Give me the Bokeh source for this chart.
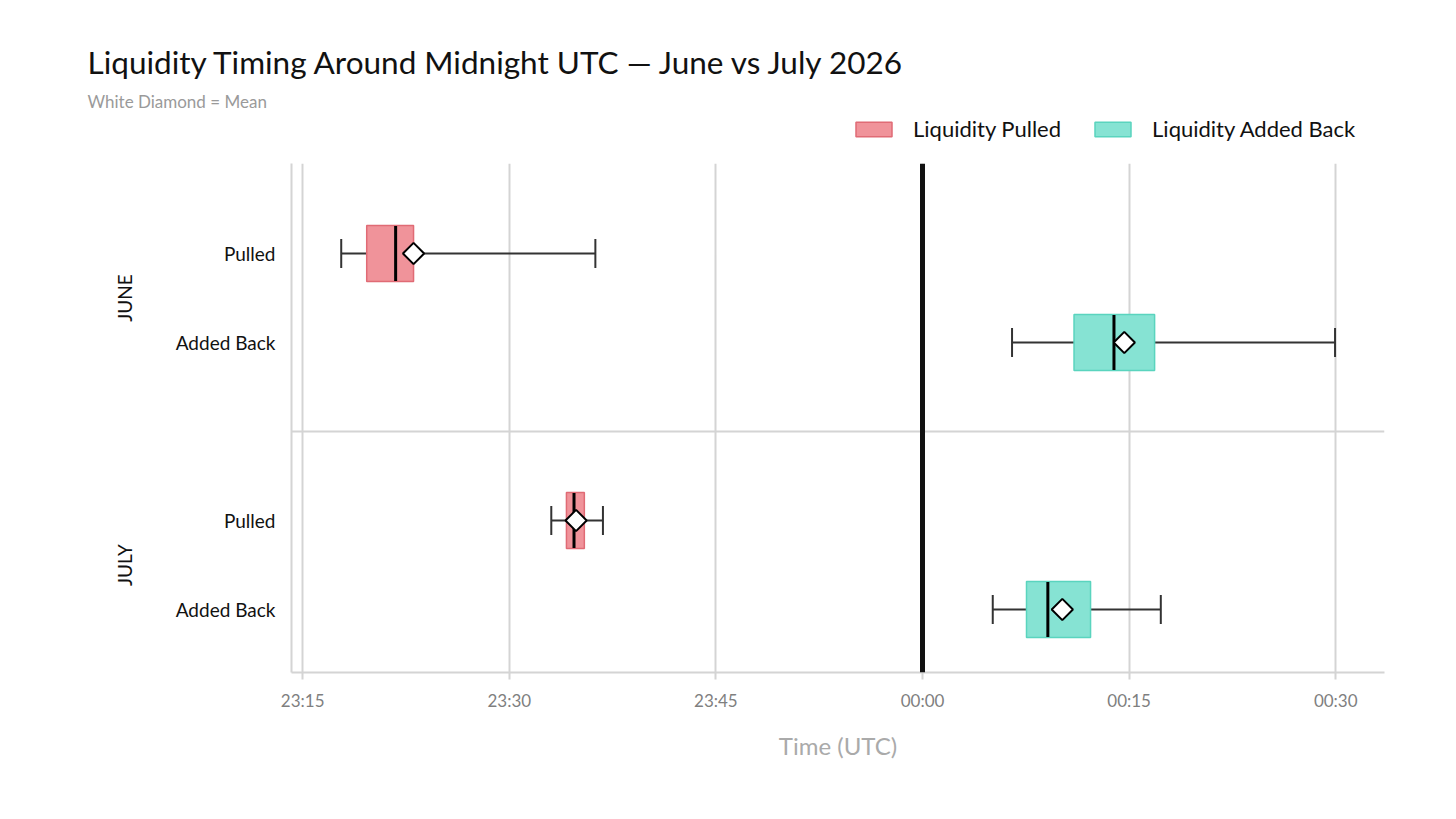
import numpy as np
from bokeh.plotting import figure
from bokeh.layouts import column
from bokeh.models import (ColumnDataSource, Range1d, FixedTicker, Span, Label,
                          Legend, LegendItem, LinearAxis)
from bokeh.embed import file_html
from bokeh.resources import INLINE

# ---------------- data (minutes relative to 00:00 UTC) ----------------
month_order = ["JUNE", "JULY"]
kind_order = ["Pulled", "Added Back"]
months = ["JUNE", "JUNE", "JULY", "JULY"]
kinds = ["Pulled", "Added Back", "Pulled", "Added Back"]
whisker_low = [-42.2, 6.5, -26.95, 5.1]
q1 = [-40.35, 11.0, -25.85, 7.55]
median = [-38.25, 13.9, -25.3, 9.1]
q3 = [-36.95, 16.85, -24.55, 12.2]
whisker_high = [-23.75, 29.95, -23.2, 17.3]
mean = [-36.95, 14.65, -25.15, 10.15]

tick_minutes = [-45, -30, -15, 0, 15, 30]
tick_labels = ["23:15", "23:30", "23:45", "00:00", "00:15", "00:30"]

TITLE = "Liquidity Timing Around Midnight UTC \u2014 June vs July 2026"
SUBTITLE = "White Diamond = Mean"

FONT = "Lato"
colors = {"Pulled": ("#F0939A", "#E06B75"), "Added Back": ("#86E3D3", "#5AD4BE")}
legend_names = {"Pulled": "Liquidity Pulled", "Added Back": "Liquidity Added Back"}

# row positions on the numeric y scale: months separated by an empty slot
ypos = [month_order.index(m) * 3 + kind_order.index(k) for m, k in zip(months, kinds)]
month_centres = [mi * 3 + 0.5 for mi in range(len(month_order))]

sources = {}
for kind in kind_order:
    idx = [i for i, k in enumerate(kinds) if k == kind]
    sources[kind] = ColumnDataSource(dict(
        y=[ypos[i] for i in idx],
        lo=[whisker_low[i] for i in idx],
        q1=[q1[i] for i in idx],
        med=[median[i] for i in idx],
        q3=[q3[i] for i in idx],
        hi=[whisker_high[i] for i in idx],
        mean=[mean[i] for i in idx],
    ))

W = 1448
HEADER_H = 150

# ---------------- header: title, subtitle, legend ----------------
hdr = figure(width=W, height=HEADER_H, output_backend="svg", toolbar_location=None,
             x_range=Range1d(0, W), y_range=Range1d(0, HEADER_H),
             min_border=0, outline_line_color=None)
hdr.frame_align = False
hdr.xaxis.visible = False
hdr.yaxis.visible = False
hdr.grid.visible = False

hdr.add_layout(Label(x=87, y=HEADER_H - 61, x_units="screen", y_units="screen", text=TITLE,
                     text_font=FONT, text_font_size="31.5px", text_color="#111111",
                     text_baseline="alphabetic"))
hdr.add_layout(Label(x=87, y=HEADER_H - 101, x_units="screen", y_units="screen", text=SUBTITLE,
                     text_font=FONT, text_font_size="17px", text_color="#9A9A9A",
                     text_baseline="alphabetic"))

key_renderers = {}
for kind in kind_order:
    fill, line = colors[kind]
    key_renderers[kind] = hdr.hbar(y="y", left="q1", right="q3", height=0.63, source=sources[kind],
                                   fill_color=fill, line_color=line, line_width=1.5, visible=False)
legend = Legend(items=[LegendItem(label=legend_names[k], renderers=[key_renderers[k]]) for k in kind_order],
                location=(851, HEADER_H - 142), orientation="horizontal",
                glyph_width=45, glyph_height=18, label_standoff=17, spacing=29,
                padding=0, margin=0, border_line_color=None, background_fill_alpha=0,
                label_text_font=FONT, label_text_font_size="22px", label_text_color="#111111")
hdr.add_layout(legend)

# ---------------- main chart ----------------
p = figure(width=W, height=808 - HEADER_H, output_backend="svg", toolbar_location=None,
           x_range=Range1d(-45.81, 33.54), y_range=Range1d(4.708, -1.011),
           min_border_left=291, min_border_right=64, min_border_top=163 - HEADER_H,
           min_border_bottom=136)
p.frame_align = False
p.outline_line_color = None
p.background_fill_color = "white"

xa = p.xaxis[0]
xa.ticker = FixedTicker(ticks=tick_minutes)
xa.major_label_overrides = {t: l for t, l in zip(tick_minutes, tick_labels)}
xa.axis_line_color = "#D4D4D4"
xa.axis_line_width = 2
xa.major_tick_line_color = "#D4D4D4"
xa.major_tick_line_width = 2
xa.major_tick_out = 7
xa.major_tick_in = 0
xa.minor_tick_line_color = None
xa.major_label_text_font = FONT
xa.major_label_text_font_size = "17px"
xa.major_label_text_color = "#7F7F7F"
xa.major_label_standoff = 10
xa.axis_label = "Time (UTC)"
xa.axis_label_text_font = FONT
xa.axis_label_text_font_size = "24px"
xa.axis_label_text_font_style = "normal"
xa.axis_label_text_color = "#AAAAAA"
xa.axis_label_standoff = 17

ya = p.yaxis[0]
ya.ticker = FixedTicker(ticks=sorted(set(ypos)))
ya.major_label_overrides = {y: k for y, k in zip(ypos, kinds)}
ya.axis_line_color = "#D4D4D4"
ya.axis_line_width = 2
ya.major_tick_line_color = None
ya.major_tick_out = 0
ya.major_tick_in = 0
ya.minor_tick_line_color = None
ya.major_label_text_font = FONT
ya.major_label_text_font_size = "19px"
ya.major_label_text_color = "#111111"
ya.major_label_standoff = 16

ya2 = LinearAxis(ticker=FixedTicker(ticks=month_centres),
                 major_label_overrides={c: m for c, m in zip(month_centres, month_order)})
ya2.axis_line_color = None
ya2.major_tick_line_color = None
ya2.major_tick_out = 0
ya2.major_tick_in = 0
ya2.minor_tick_line_color = None
ya2.major_label_orientation = "vertical"
ya2.major_label_text_font = FONT
ya2.major_label_text_font_size = "19px"
ya2.major_label_text_color = "#111111"
ya2.major_label_standoff = 36
p.add_layout(ya2, "left")

p.xgrid.ticker = FixedTicker(ticks=tick_minutes)
p.xgrid.grid_line_color = "#D4D4D4"
p.xgrid.grid_line_width = 2
p.ygrid.ticker = FixedTicker(ticks=[2])
p.ygrid.grid_line_color = "#D4D4D4"
p.ygrid.grid_line_width = 2

p.add_layout(Span(location=0, dimension="height", line_color="#111111", line_width=5))

for kind in kind_order:
    src = sources[kind]
    fill, line = colors[kind]
    p.segment(x0="lo", y0="y", x1="q1", y1="y", source=src, line_color="#333333", line_width=2)
    p.segment(x0="q3", y0="y", x1="hi", y1="y", source=src, line_color="#333333", line_width=2)
    for col in ("lo", "hi"):
        p.scatter(x=col, y="y", source=src, marker="dash", angle=np.pi / 2, size=29,
                  line_color="#333333", line_width=2)
    p.hbar(y="y", left="q1", right="q3", height=0.63, source=src,
           fill_color=fill, line_color=line, line_width=1.5)
    p.scatter(x="med", y="y", source=src, marker="dash", angle=np.pi / 2, size=55,
              line_color="#000000", line_width=3)
    p.scatter(x="mean", y="y", source=src, marker="square", angle=np.pi / 4, size=15,
              fill_color="white", line_color="#000000", line_width=2)

layout = column(hdr, p, spacing=0)
open("out.html", "w").write(file_html(layout, INLINE))
